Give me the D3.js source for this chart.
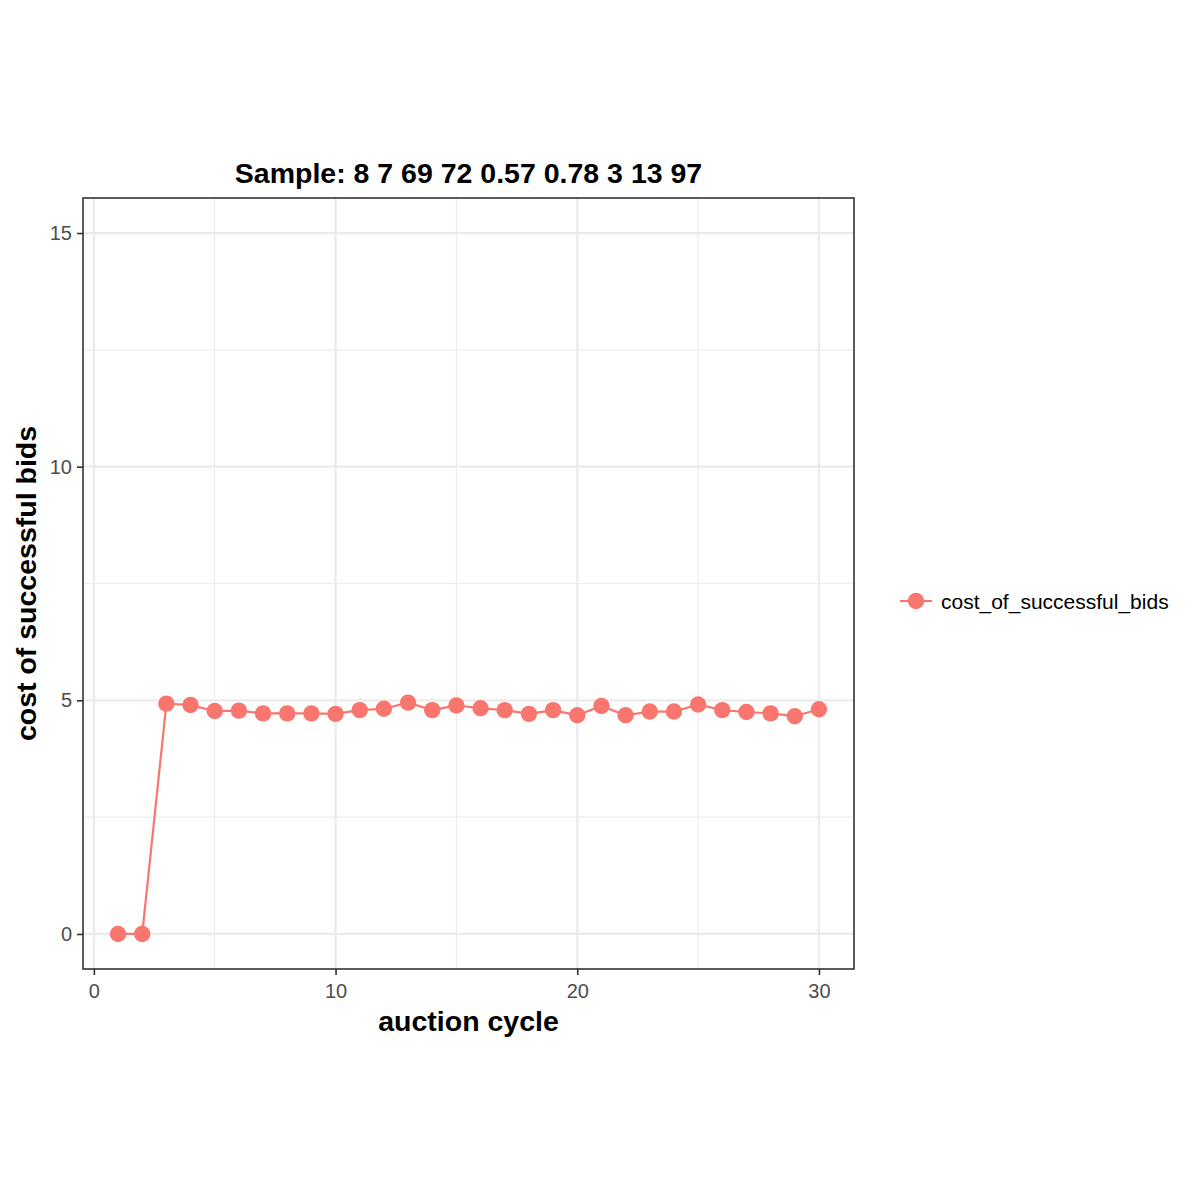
<!DOCTYPE html>
<html>
<head>
<meta charset="UTF-8">
<script src="https://cdn.jsdelivr.net/npm/d3@7"></script>
<style>
  body { margin: 0; background: #fff; }
  text { font-family: "Liberation Sans", Arial, sans-serif; }
</style>
</head>
<body>
<div id="chart"></div>
<script>
// data
const cycles = d3.range(1, 31);
const costs = [0, 0, 4.93, 4.90, 4.77, 4.78, 4.72, 4.72, 4.72, 4.71,
               4.79, 4.82, 4.95, 4.79, 4.89, 4.83, 4.79, 4.71, 4.79, 4.68,
               4.88, 4.68, 4.76, 4.76, 4.91, 4.79, 4.75, 4.72, 4.66, 4.81];
const xTicks = [0, 10, 20, 30];
const yTicks = [0, 5, 10, 15];
const xMinor = [5, 15, 25];
const yMinor = [2.5, 7.5, 12.5];
const seriesName = 'cost_of_successful_bids';
const titleText = 'Sample: 8 7 69 72 0.57 0.78 3 13 97';

const W = 1200, H = 1200;
const panel = { left: 83, right: 854, top: 198, bottom: 969 };
const colour = '#F8766D';

const svg = d3.select('#chart').append('svg')
  .attr('width', W).attr('height', H);

const x = d3.scaleLinear().domain([-0.45, 31.45]).range([panel.left, panel.right]);
const y = d3.scaleLinear().domain([-0.75, 15.75]).range([panel.bottom, panel.top]);

// grid
const grid = svg.append('g');
grid.selectAll('.ymin').data(yMinor).join('line')
  .attr('x1', panel.left).attr('x2', panel.right)
  .attr('y1', d => y(d)).attr('y2', d => y(d))
  .attr('stroke', '#ebebeb').attr('stroke-width', 1.1);
grid.selectAll('.xmin').data(xMinor).join('line')
  .attr('y1', panel.top).attr('y2', panel.bottom)
  .attr('x1', d => x(d)).attr('x2', d => x(d))
  .attr('stroke', '#ebebeb').attr('stroke-width', 1.1);
grid.selectAll('.ymaj').data(yTicks).join('line')
  .attr('x1', panel.left).attr('x2', panel.right)
  .attr('y1', d => y(d)).attr('y2', d => y(d))
  .attr('stroke', '#ebebeb').attr('stroke-width', 2.2);
grid.selectAll('.xmaj').data(xTicks).join('line')
  .attr('y1', panel.top).attr('y2', panel.bottom)
  .attr('x1', d => x(d)).attr('x2', d => x(d))
  .attr('stroke', '#ebebeb').attr('stroke-width', 2.2);

// series
const line = d3.line().x((d, i) => x(cycles[i])).y(d => y(d));
svg.append('path').datum(costs)
  .attr('d', line).attr('fill', 'none')
  .attr('stroke', colour).attr('stroke-width', 2.2);
svg.selectAll('.pt').data(costs).join('circle')
  .attr('cx', (d, i) => x(cycles[i])).attr('cy', d => y(d))
  .attr('r', 8.2).attr('fill', colour);

// panel border
svg.append('rect')
  .attr('x', panel.left).attr('y', panel.top)
  .attr('width', panel.right - panel.left).attr('height', panel.bottom - panel.top)
  .attr('fill', 'none').attr('stroke', '#333333').attr('stroke-width', 1.6);

// axes
const xAxis = svg.append('g').attr('transform', `translate(0,${panel.bottom})`)
  .call(d3.axisBottom(x).tickValues(xTicks).tickSize(6).tickPadding(9));
const yAxis = svg.append('g').attr('transform', `translate(${panel.left},0)`)
  .call(d3.axisLeft(y).tickValues(yTicks).tickSize(6).tickPadding(5));
[xAxis, yAxis].forEach(a => {
  a.select('.domain').remove();
  a.selectAll('.tick line').attr('stroke', '#333333').attr('stroke-width', 1.6);
  a.selectAll('.tick text').attr('fill', '#4d4d4d')
    .style('font-size', '20px').style('font-family', '"Liberation Sans", Arial, sans-serif');
});

// titles
const midX = (panel.left + panel.right) / 2;
svg.append('text').attr('x', midX).attr('y', 183)
  .attr('text-anchor', 'middle').attr('font-weight', 'bold')
  .attr('font-size', 28.5).text(titleText);
svg.append('text').attr('x', midX).attr('y', 1031)
  .attr('text-anchor', 'middle').attr('font-weight', 'bold')
  .attr('font-size', 28.5).text('auction cycle');
svg.append('text')
  .attr('transform', `translate(36,${(panel.top + panel.bottom) / 2}) rotate(-90)`)
  .attr('text-anchor', 'middle').attr('font-weight', 'bold')
  .attr('font-size', 28.5).text('cost of successful bids');

// legend
const lg = svg.append('g').attr('transform', 'translate(900,601)');
lg.append('line').attr('x1', 0).attr('x2', 32)
  .attr('stroke', colour).attr('stroke-width', 2.2);
lg.append('circle').attr('cx', 16).attr('r', 8.2).attr('fill', colour);
lg.append('text').attr('x', 41).attr('y', 7.5)
  .attr('font-size', 21).attr('fill', '#000').text(seriesName);
</script>
</body>
</html>
